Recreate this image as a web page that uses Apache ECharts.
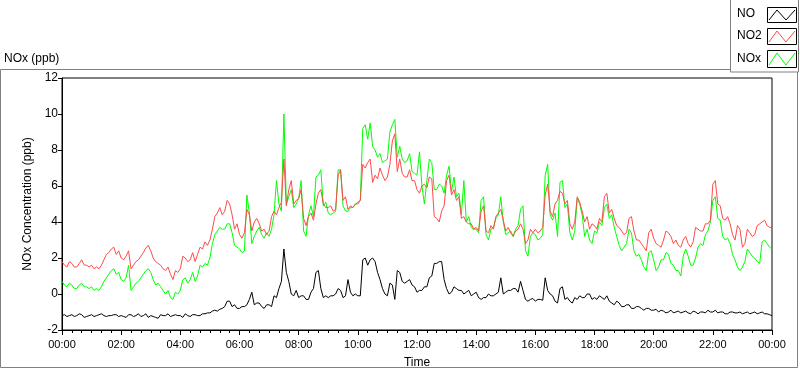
<!DOCTYPE html>
<html>
<head>
<meta charset="utf-8">
<script src="https://cdn.jsdelivr.net/npm/echarts@6/dist/echarts.min.js"></script>
<style>
html,body{margin:0;padding:0;background:#fff;}
#chart{width:800px;height:369px;}
</style>
</head>
<body>
<div id="chart"></div>
<script>
// Sampling step of the series (minutes between readings)
const stepMinutes = 5;
// X tick labels (every 2 hours)
const xTickLabels = ['00:00','02:00','04:00','06:00','08:00','10:00','12:00','14:00','16:00','18:00','20:00','22:00','00:00'];
const yTicks = [-2, 0, 2, 4, 6, 8, 10, 12];
const seriesNames = ['NO', 'NO2', 'NOx'];

// NO (ppb), 5-minute readings from 00:00 to 24:00 (one row per hour)
const noValues = [
  -1.2,-1.15,-1.25,-1.2,-1.15,-1.25,-1.2,-1.1,-1.15,-1.3,-1.25,-1.2,
  -1.15,-1.25,-1.2,-1.15,-1.1,-1.2,-1.25,-1.2,-1.2,-1.15,-1.15,-1.25,
  -1.2,-1.25,-1.3,-1.15,-1.15,-1.25,-1.2,-1.1,-1.25,-1.2,-1.1,-1.3,
  -1.2,-1.25,-1.3,-1.35,-1.15,-1.2,-1.2,-1.1,-1.25,-1.2,-1.15,-1.2,
  -1.2,-1.3,-1.1,-1.2,-1.25,-1.15,-1.15,-1.2,-1.2,-1.1,-1.1,-1.05,
  -1.05,-0.95,-0.9,-0.95,-0.85,-0.8,-0.7,-0.4,-0.4,-0.7,-0.6,-0.8,
  -0.8,-0.7,-0.7,-0.6,-0.3,0.1,-0.6,-0.5,-0.5,-0.7,-0.8,-0.6,
  -0.6,-0.7,-0.1,-0.2,0.3,0.7,2.5,1.2,0.7,0.0,-0.1,0.2,
  -0.2,-0.1,-0.1,-0.3,-0.3,0.1,0.3,1.2,1.3,0.3,-0.2,-0.1,
  -0.2,-0.1,-0.1,0.0,0.3,0.2,-0.2,-0.1,0.8,0.1,-0.1,0.0,
  -0.1,-0.1,1.9,2.0,1.6,1.9,2.0,1.8,1.2,0.8,0.3,0.0,
  -0.1,0.6,0.5,-0.3,1.3,1.2,0.7,0.6,0.7,0.8,0.5,0.4,
  0.1,0.2,0.2,0.4,0.4,0.9,1.0,1.7,1.7,1.8,1.8,0.8,
  0.3,0.0,0.1,0.4,0.3,0.2,0.2,0.0,0.1,0.2,-0.1,0.0,
  0.1,-0.2,-0.3,-0.2,-0.2,0.0,-0.1,-0.1,0.0,0.1,0.9,0.0,
  0.1,0.2,0.2,0.3,0.3,0.1,0.7,0.2,-0.3,-0.4,-0.3,-0.25,
  -0.4,-0.3,-0.3,-0.35,0.9,0.2,0.0,-0.1,-0.4,-0.5,0.3,0.4,
  -0.3,-0.2,-0.4,-0.5,-0.2,-0.3,-0.1,-0.2,-0.2,0.0,0.0,-0.3,
  -0.2,-0.3,-0.1,-0.2,-0.3,-0.1,-0.4,-0.5,-0.6,-0.4,-0.5,-0.7,
  -0.7,-0.6,-0.6,-0.8,-0.8,-0.7,-0.7,-0.8,-0.9,-0.8,-0.8,-0.9,
  -0.9,-0.85,-1.0,-0.9,-0.95,-1.05,-1.0,-0.9,-1.05,-1.0,-0.95,-1.05,
  -1.0,-0.95,-1.05,-1.1,-0.95,-1.0,-1.1,-1.0,-1.0,-1.05,-0.9,-1.0,
  -1.0,-0.9,-1.05,-1.0,-1.0,-1.1,-1.1,-1.0,-1.0,-1.05,-1.05,-1.0,
  -1.1,-1.05,-1.0,-1.1,-1.05,-1.0,-1.1,-1.05,-1.0,-1.1,-1.1,-1.15,
  -1.2
];

// NO2 (ppb)
const no2Values = [
  1.8,1.6,1.5,1.8,1.7,1.5,1.5,1.7,1.9,1.6,1.6,1.5,
  1.6,1.4,1.5,1.4,1.6,1.9,2.2,2.3,2.5,2.6,2.2,2.4,
  2.0,1.9,2.1,2.4,1.4,1.6,1.8,1.9,2.1,2.3,2.55,2.7,
  2.4,2.0,1.8,1.7,1.6,1.4,1.3,1.5,1.1,0.8,1.3,1.2,
  1.4,2.1,2.0,1.8,1.9,2.3,1.8,2.2,2.6,2.5,2.9,2.7,
  3.0,3.6,4.3,4.5,4.8,4.4,4.6,5.2,5.0,4.4,3.6,3.9,
  3.3,3.1,3.4,4.7,4.4,3.5,4.0,4.2,3.9,3.5,3.6,3.3,
  3.5,4.3,4.6,4.4,4.8,5.1,7.5,4.9,5.8,6.3,5.0,5.2,
  5.3,5.8,4.2,3.8,4.3,4.5,4.1,5.0,5.6,5.8,5.0,4.8,
  4.8,4.9,4.6,4.7,6.6,6.9,5.2,5.4,4.7,4.9,4.8,5.0,
  5.0,5.2,7.2,7.0,7.3,7.5,6.2,6.6,6.4,7.0,6.6,6.3,
  6.5,7.2,8.5,8.9,6.8,7.5,6.7,6.5,6.5,6.9,6.3,6.3,
  5.8,5.6,6.0,6.1,5.9,6.5,6.4,4.3,4.2,4.0,4.6,4.9,
  6.3,6.6,5.5,5.8,5.2,5.4,4.2,4.3,4.0,3.9,3.9,3.6,
  3.7,3.5,4.6,4.9,3.5,3.4,3.8,3.6,4.3,4.5,4.7,4.1,
  3.5,3.7,3.4,3.2,3.5,3.6,3.9,3.6,2.8,3.0,3.6,3.4,
  3.6,3.4,3.5,3.7,5.5,6.1,4.6,4.3,5.0,5.2,5.7,5.6,
  5.0,5.2,3.9,3.6,4.0,5.4,5.1,4.6,4.0,4.3,3.6,3.9,
  3.8,3.6,4.2,4.0,5.4,5.6,4.5,4.7,4.2,3.8,3.7,3.5,
  3.3,3.4,4.2,4.3,3.5,3.0,3.0,2.8,2.6,2.4,3.4,3.6,
  3.1,2.8,2.7,2.6,3.0,3.5,3.4,3.2,2.8,3.0,2.7,2.6,
  3.0,3.2,2.8,2.6,2.9,3.7,3.6,3.5,3.5,3.9,3.9,4.1,
  6.1,6.3,5.0,4.9,4.2,4.1,4.3,3.9,3.3,3.0,3.8,3.6,
  2.6,2.8,3.6,3.4,3.2,3.3,3.8,3.9,4.0,4.1,3.8,3.7,
  3.7
];

// NOx (ppb)
const noxValues = [
  0.7,0.5,0.4,0.6,0.5,0.3,0.3,0.5,0.6,0.4,0.4,0.3,
  0.4,0.2,0.3,0.2,0.4,0.7,0.9,1.1,1.3,1.4,1.1,1.2,
  0.8,0.7,0.9,1.6,0.2,0.4,0.6,0.7,0.9,1.1,1.3,1.4,
  1.2,0.8,0.5,0.6,0.4,0.2,0.0,0.2,-0.2,-0.3,0.1,0.0,
  0.2,0.8,0.9,0.6,0.8,1.2,0.7,1.0,1.6,1.5,1.7,1.6,
  2.0,2.8,3.3,3.5,3.7,3.6,3.6,3.9,3.9,3.4,2.7,2.6,
  2.5,2.3,2.4,5.5,4.5,2.8,3.2,3.5,3.7,3.3,3.1,3.4,
  3.2,3.6,4.4,6.3,5.0,4.6,10.0,5.0,5.4,5.8,4.8,5.0,
  5.3,6.3,3.5,3.2,4.4,4.9,4.3,6.5,6.6,6.9,4.9,5.1,
  4.5,4.4,4.5,4.6,6.9,6.9,4.9,4.6,4.6,4.8,4.8,5.0,
  5.1,5.2,9.2,9.4,8.6,9.5,8.2,8.0,7.6,7.8,7.3,7.4,
  7.5,9.0,9.4,9.7,7.6,8.2,7.5,7.3,7.4,7.8,6.8,6.7,
  6.6,7.9,6.0,5.0,6.3,7.5,7.3,5.8,5.8,6.1,6.0,5.6,
  6.6,7.1,5.7,6.5,5.4,5.6,4.4,6.3,4.0,4.3,3.7,3.6,
  3.6,3.4,5.2,5.4,3.3,3.0,3.6,3.7,4.2,4.4,5.4,4.0,
  3.3,3.4,3.5,3.2,3.6,3.8,4.7,4.9,2.4,2.1,3.2,3.4,
  3.3,3.0,3.1,3.3,6.6,7.2,4.4,4.1,4.5,3.2,6.2,6.3,
  4.8,5.0,3.4,3.0,3.5,5.3,5.0,4.4,3.2,3.6,3.0,2.8,
  3.5,3.4,4.0,3.8,4.8,5.0,4.2,4.4,3.7,3.2,2.7,2.4,
  2.6,2.8,3.6,3.4,2.4,2.1,2.2,1.9,1.5,1.3,2.3,2.4,
  1.9,1.3,1.5,1.9,1.9,2.3,2.2,1.7,1.6,1.3,1.3,1.0,
  2.1,2.5,2.1,1.6,1.6,2.0,2.6,2.8,2.7,3.3,3.5,4.0,
  5.2,5.4,4.2,4.1,3.2,3.0,3.1,2.8,2.2,1.9,1.5,1.3,
  1.5,1.8,2.5,2.3,2.1,2.0,1.8,1.7,2.9,3.0,2.8,2.6,
  2.5
];

const colors = { NO: '#000000', NO2: '#ff4a4a', NOx: '#00ff00' };
const FONT = 'Liberation Sans';

function toPairs(vals) {
  return vals.map((v, i) => [i * stepMinutes / 60, v]);
}

const chart = echarts.init(document.getElementById('chart'), null, { renderer: 'canvas' });

function swatch(y, h, color) {
  const x = 767, w = 29;
  return [
    { type: 'rect', shape: { x: x + 0.5, y: y + 0.5, width: w, height: h }, style: { fill: '#fff', stroke: '#000', lineWidth: 1 }, z: 101 },
    { type: 'polyline', shape: { points: [[x + 2, y + h - 2], [x + 10, y + 3], [x + 19, y + h - 2], [x + w - 1, y + 3]] }, style: { stroke: color, lineWidth: 1, fill: null }, z: 102 }
  ];
}

const legendY = [14, 36, 59];
const swatchY = [[7, 15], [28, 16], [50, 17]];

const graphics = [
  { type: 'rect', shape: { x: 0.5, y: 69.5, width: 797, height: 298 }, style: { fill: 'none', stroke: '#808080', lineWidth: 1 }, z: 0, silent: true },
  { type: 'text', x: 4, y: 59, style: { text: 'NOx (ppb)', font: '12px "' + FONT + '"', fill: '#000', verticalAlign: 'middle' }, z: 10 },
  { type: 'rect', shape: { x: 730.5, y: -1, width: 68, height: 73 }, style: { fill: '#fff', stroke: '#808080', lineWidth: 1 }, z: 100 },
  { type: 'line', shape: { x1: 772.5, y1: 78, x2: 772.5, y2: 330 }, style: { stroke: '#808080', lineWidth: 1 }, z: 50 }
];
seriesNames.forEach((n, i) => {
  graphics.push({ type: 'text', x: 737, y: legendY[i], style: { text: n, font: '12px "' + FONT + '"', fill: '#000', verticalAlign: 'middle' }, z: 102 });
  swatch(swatchY[i][0], swatchY[i][1], colors[n]).forEach(g => graphics.push(g));
});

const option = {
  animation: false,
  backgroundColor: '#ffffff',
  textStyle: { fontFamily: FONT },
  grid: { left: 62, right: 28, top: 78, bottom: 39, show: true, borderColor: '#000', borderWidth: 1, backgroundColor: '#fff', containLabel: false, outerBoundsMode: 'none' },
  xAxis: {
    type: 'value',
    min: 0, max: 24, interval: 2,
    name: 'Time', nameLocation: 'middle', nameGap: 27,
    nameTextStyle: { fontFamily: FONT, fontSize: 12, color: '#000' },
    axisLine: { show: true, onZero: false, lineStyle: { color: '#000', width: 1 } },
    axisTick: { show: true, length: 5, lineStyle: { color: '#000' } },
    minorTick: { show: true, splitNumber: 6, length: 3, lineStyle: { color: '#000' } },
    splitLine: { show: false },
    axisLabel: {
      fontFamily: FONT, fontSize: 11, color: '#000', margin: 9,
      formatter: function (v) { return xTickLabels[Math.round(v / 2)]; }
    }
  },
  yAxis: {
    type: 'value',
    min: yTicks[0], max: yTicks[yTicks.length - 1], interval: 2,
    name: 'NOx Concentration (ppb)', nameLocation: 'middle', nameGap: 25, nameRotate: 90,
    nameTextStyle: { fontFamily: FONT, fontSize: 12, color: '#000' },
    axisLine: { show: true, onZero: false, lineStyle: { color: '#000', width: 1 } },
    axisTick: { show: true, length: 4, lineStyle: { color: '#000' } },
    splitLine: { show: false },
    axisLabel: { fontFamily: FONT, fontSize: 12, color: '#000', margin: 4 }
  },
  graphic: graphics,
  series: [
    { name: 'NOx', type: 'line', data: toPairs(noxValues), showSymbol: false, symbol: 'none', lineStyle: { color: colors.NOx, width: 1 }, itemStyle: { color: colors.NOx }, z: 2 },
    { name: 'NO2', type: 'line', data: toPairs(no2Values), showSymbol: false, symbol: 'none', lineStyle: { color: colors.NO2, width: 1 }, itemStyle: { color: colors.NO2 }, z: 3 },
    { name: 'NO', type: 'line', data: toPairs(noValues), showSymbol: false, symbol: 'none', lineStyle: { color: colors.NO, width: 1 }, itemStyle: { color: colors.NO }, z: 4 }
  ]
};
chart.setOption(option);
</script>
</body>
</html>
